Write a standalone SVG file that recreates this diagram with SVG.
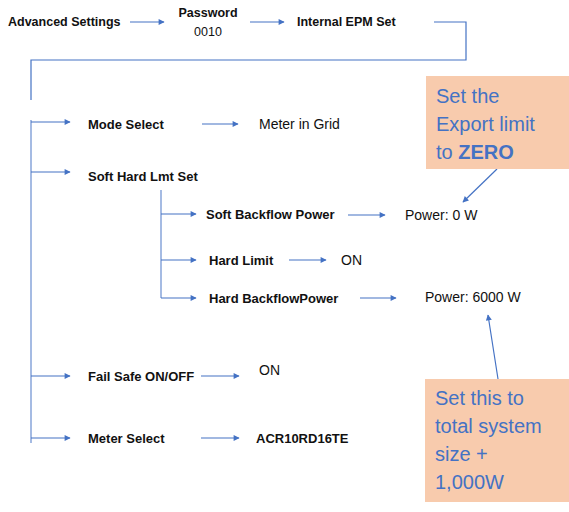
<svg xmlns="http://www.w3.org/2000/svg" width="569" height="512" viewBox="0 0 569 512">
<style>
text{font-family:"Liberation Sans",Arial,sans-serif;fill:#111}
.b{font-weight:bold}
.t{font-size:12.5px}
.m{font-size:14px}
.n{font-size:13px}
.note{font-size:20px;fill:#4472C4}
.ar{stroke:#4472C4;stroke-width:1.2;fill:none;marker-end:url(#ah)}
.ln{stroke:#8FAADC;stroke-width:1.6;fill:none}
.cl{stroke:#4472C4;stroke-width:1.2;fill:none}
.box{fill:#F8CBAD}
</style>
<defs>
<marker id="ah" viewBox="0 0 10 10" refX="9" refY="5" markerWidth="7" markerHeight="6" markerUnits="userSpaceOnUse" orient="auto">
<path d="M0,0L10,5L0,10z" fill="#4472C4"/>
</marker>
</defs>
<g id="connectors">
<line class="ar" x1="130" y1="22" x2="164" y2="22"/>
<line class="ar" x1="250" y1="22" x2="284" y2="22"/>
<polyline class="cl" points="434,22 466,22 466,60 31,60 31,100"/>
<line class="ln" x1="31" y1="120" x2="31" y2="443"/>
<line class="ar" x1="31" y1="122" x2="70" y2="122"/>
<line class="ar" x1="31" y1="172" x2="70" y2="172"/>
<line class="ar" x1="31" y1="376" x2="70" y2="376"/>
<line class="ar" x1="31" y1="438" x2="70" y2="438"/>
<line class="ar" x1="202" y1="124" x2="238" y2="124"/>
<line class="ln" x1="161" y1="190" x2="161" y2="298"/>
<line class="ar" x1="161" y1="214" x2="196" y2="214"/>
<line class="ar" x1="161" y1="260" x2="196" y2="260"/>
<line class="ar" x1="161" y1="298" x2="196" y2="298"/>
<line class="ar" x1="348" y1="215" x2="385" y2="215"/>
<line class="ar" x1="289" y1="260" x2="326" y2="260"/>
<line class="ar" x1="360" y1="298" x2="396" y2="298"/>
<line class="ar" x1="201" y1="376" x2="239" y2="376"/>
<line class="ar" x1="201" y1="438" x2="239" y2="438"/>
<line class="ar" x1="497" y1="169" x2="463" y2="202"/>
<line class="ar" x1="498" y1="379" x2="488" y2="315"/>
</g>
<g id="advanced"><text class="b t" x="8" y="26">Advanced Settings</text></g>
<g id="password"><text class="b t" x="208" y="17" text-anchor="middle">Password</text><text class="t" x="208" y="36" text-anchor="middle">0010</text></g>
<g id="epm"><text class="b t" x="297" y="26">Internal EPM Set</text></g>
<g id="mode"><text class="b n" x="88" y="129">Mode Select</text></g>
<g id="grid"><text class="m" x="259" y="129">Meter in Grid</text></g>
<g id="softhard"><text class="b n" x="88" y="181">Soft Hard Lmt Set</text></g>
<g id="softbf"><text class="b n" x="206" y="219">Soft Backflow Power</text></g>
<g id="p0"><text class="m" x="405" y="220">Power: 0 W</text></g>
<g id="hardlimit"><text class="b n" x="209" y="265">Hard Limit</text></g>
<g id="on1"><text class="m" x="341" y="265">ON</text></g>
<g id="hardbf"><text class="b n" x="209" y="303">Hard BackflowPower</text></g>
<g id="p6000"><text class="m" x="425" y="302">Power: 6000 W</text></g>
<g id="failsafe"><text class="b n" x="88" y="381">Fail Safe ON/OFF</text></g>
<g id="on2"><text class="m" x="259" y="375">ON</text></g>
<g id="meter"><text class="b n" x="88" y="443">Meter Select</text></g>
<g id="acr"><text class="b n" x="256" y="443">ACR10RD16TE</text></g>
<g id="note1">
<rect class="box" x="426" y="76" width="143" height="93"/>
<text class="note" x="436" y="103">Set the</text>
<text class="note" x="436" y="131">Export limit</text>
<text class="note" x="436" y="159">to <tspan font-weight="bold" fill="#4472C4">ZERO</tspan></text>
</g>
<g id="note2">
<rect class="box" x="425" y="379" width="144" height="123"/>
<text class="note" x="435" y="405">Set this to</text>
<text class="note" x="435" y="433">total system</text>
<text class="note" x="435" y="461">size +</text>
<text class="note" x="435" y="489">1,000W</text>
</g>
</svg>
